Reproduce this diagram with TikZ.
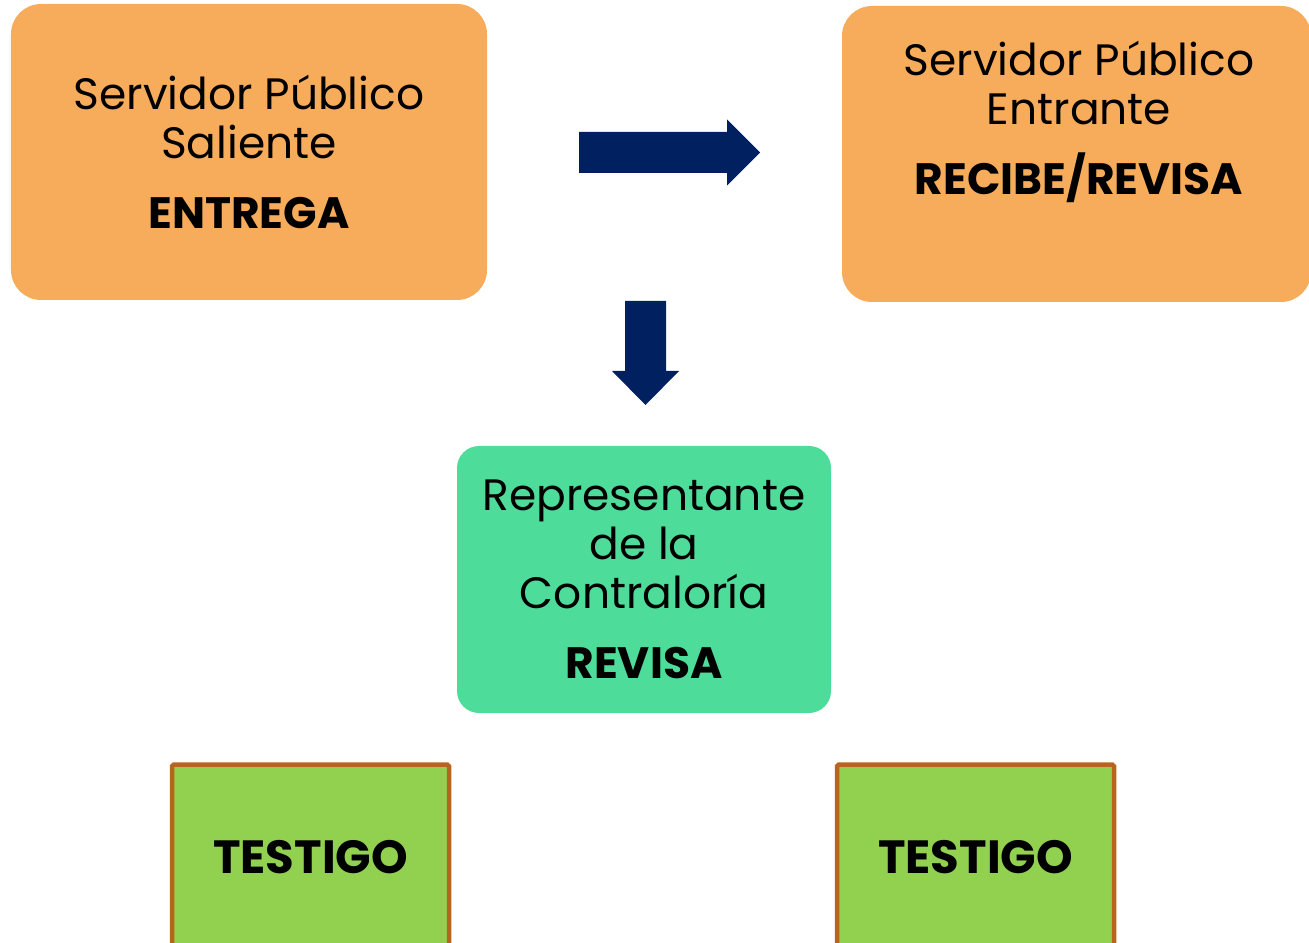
\documentclass[tikz,border=0pt]{standalone}
\usepackage{fontspec}
\setmainfont{Poppins}
\usetikzlibrary{positioning,calc}
\definecolor{naranja}{RGB}{246,172,90}
\definecolor{verdeagua}{RGB}{77,220,154}
\definecolor{verdetest}{RGB}{146,208,80}
\definecolor{cafe}{RGB}{181,101,29}
\definecolor{azulosc}{RGB}{0,32,96}

\begin{document}
\begin{tikzpicture}[every node/.style={outer sep=0pt},
		caja/.style={fill=naranja,rounded corners=0.6cm,minimum width=9.52cm,minimum height=5.92cm},
		cajarep/.style={fill=verdeagua,rounded corners=0.44cm,minimum width=7.48cm,minimum height=5.34cm},
		testigo/.style={draw=cafe,fill=verdetest,line width=0.09cm,rounded corners=1pt,
		minimum width=5.54cm,minimum height=3.7cm,inner sep=0pt,font=\fontsize{26.5}{30}\selectfont\bfseries},
		texto/.style={align=center,inner sep=0pt,font=\fontsize{25}{27.9}\selectfont},
		flecha/.style={fill=azulosc,draw=none},
		]
		\useasboundingbox (0,0) rectangle (26.18,-18.86);
		\clip (0,0) rectangle (26.18,-18.86);

		% cajas de arriba
		\path (4.98,-3.04) node[caja] (sal){};
		\node[texto] (saltxt) at (sal) {Servidor Público\\Saliente\\[0.42cm]\textbf{ENTREGA}};
		\path (21.53,-3.08) node[caja,minimum width=9.38cm] (entr){};
		\node[texto,below=0.7cm of entr.north,xshift=0.05cm] (entrtxt) {Servidor Público\\Entrante\\[0.42cm]\textbf{RECIBE/REVISA}};

		% contraloria
		\path (12.88,-11.59) node[cajarep] (rep){};
		\node[texto] (reptxt) at (rep) {Representante\\de la\\Contraloría\\[0.42cm]\textbf{REVISA}};

		% testigos
		\path (6.21,-17.14) node[testigo] (t1){TESTIGO};
		\path (19.51,-17.14) node[testigo] (t2){TESTIGO};

		% flechas
		\coordinate (a1) at ($(sal.east)+(1.84cm,-0.01cm)$);
		\coordinate (a2) at ($(entr.west)+(-1.64cm,0.03cm)$);
		\fill[flecha] ($(a1)+(0,0.41)$) -- ($(a2)+(-0.66,0.41)$) -- ($(a2)+(-0.66,0.66)$) -- (a2)
			-- ($(a2)+(-0.66,-0.66)$) -- ($(a2)+(-0.66,-0.41)$) -- ($(a1)+(0,-0.41)$) -- cycle;
		\coordinate (b1) at ($(rep.north)+(0.03cm,2.9cm)$);
		\coordinate (b2) at ($(rep.north)+(0.03cm,0.82cm)$);
		\fill[flecha] ($(b1)+(-0.41,0)$) -- ($(b2)+(-0.41,0.68)$) -- ($(b2)+(-0.67,0.68)$) -- (b2)
			-- ($(b2)+(0.67,0.68)$) -- ($(b2)+(0.41,0.68)$) -- ($(b1)+(0.41,0)$) -- cycle;
	\end{tikzpicture}
\end{document}
